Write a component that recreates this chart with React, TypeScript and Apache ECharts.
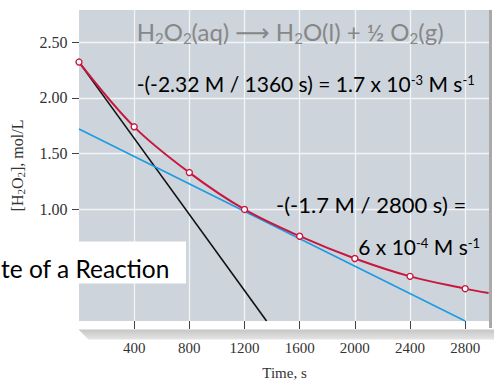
import React, { useEffect, useRef } from 'react';
import * as echarts from 'echarts';

// ---- data ----
const timeTicks = [400, 800, 1200, 1600, 2000, 2400, 2800];
const concTicks = [1.0, 1.5, 2.0, 2.5];
const curveTimes = [0, 400, 800, 1200, 1600, 2000, 2400, 2800];
const curveConc = [2.32, 1.74, 1.33, 1.0, 0.76, 0.56, 0.4, 0.29];
const curveTail: [number, number] = [2970, 0.25];
const tangentInitial: [number, number][] = [[0, 2.32], [1360, 0]];
const tangent1200: [number, number][] = [[0, 1.72], [2800, 0]];

const xMin = 0;
const xMax = 2980;
const yMin = 0;
const yMax = 2.787;

const SANS = 'Lato, "Open Sans", "DejaVu Sans", sans-serif';
const SERIF = '"Liberation Serif", "DejaVu Serif", serif';

function richStyles(color: string, subSize: number, subLH: number, supSize: number, supLift: number) {
  return {
    s: { fontSize: subSize, lineHeight: subLH, verticalAlign: 'bottom', fill: color, fontFamily: SANS },
    p: { fontSize: supSize, lineHeight: supSize + 2, verticalAlign: 'middle', padding: [0, 0, supLift * 2, 0], fill: color, fontFamily: SANS },
  };
}

const App = () => {
  const ref = useRef<HTMLDivElement>(null);
  useEffect(() => {
    const chart = echarts.init(ref.current!, null, { renderer: 'svg' });
    const curveData: any[] = curveTimes.map((t, i) => [t, curveConc[i]]);
    curveData.push({ value: curveTail, symbol: 'none' });

    chart.setOption({
      animation: false,
      backgroundColor: '#ffffff',
      grid: {
        left: 78.5,
        top: 10,
        right: 4,
        bottom: 59,
        show: true,
        backgroundColor: '#cdd4db',
        borderWidth: 0,
      },
      xAxis: {
        type: 'value',
        min: xMin,
        max: xMax,
        interval: 400,
        offset: 7,
        name: 'Time, s',
        nameLocation: 'middle',
        nameGap: 37,
        nameTextStyle: { fontFamily: SERIF, fontSize: 15, color: '#333' },
        axisLine: { show: false },
        axisTick: { show: true, length: 8, customValues: timeTicks, lineStyle: { color: '#444', width: 1 } },
        axisLabel: {
          customValues: timeTicks,
          margin: 12,
          fontFamily: SERIF,
          fontSize: 15,
          color: '#333',
          formatter: (v: number) => String(v),
        },
        splitLine: { show: true, lineStyle: { color: '#f2f4f6', width: 1.3 } },
      },
      yAxis: {
        type: 'value',
        min: yMin,
        max: yMax,
        interval: 0.5,
        name: '[H{s|2}O{s|2}], mol/L',
        nameLocation: 'middle',
        nameRotate: 90,
        nameGap: 53,
        nameTextStyle: {
          fontFamily: SERIF,
          fontSize: 16,
          color: '#333',
          lineHeight: 18,
          rich: { s: { fontFamily: SERIF, fontSize: 11, lineHeight: 11, verticalAlign: 'bottom', color: '#333' } },
        },
        axisLine: { show: false },
        axisTick: { show: true, length: 7, customValues: concTicks, lineStyle: { color: '#444', width: 1 } },
        axisLabel: {
          customValues: concTicks,
          margin: 11.5,
          fontFamily: SERIF,
          fontSize: 16,
          color: '#333',
          formatter: (v: number) => v.toFixed(2),
        },
        splitLine: { show: true, lineStyle: { color: '#f2f4f6', width: 1.3 } },
      },
      series: [
        {
          type: 'line',
          data: tangentInitial,
          symbol: 'none',
          lineStyle: { color: '#111111', width: 1.6 },
          z: 2,
        },
        {
          type: 'line',
          data: tangent1200,
          symbol: 'none',
          lineStyle: { color: '#1d9be2', width: 1.6 },
          z: 3,
        },
        {
          type: 'line',
          data: curveData,
          smooth: 0.35,
          symbol: 'circle',
          symbolSize: 6,
          itemStyle: { color: '#ffffff', borderColor: '#c8173e', borderWidth: 1.4 },
          lineStyle: { color: '#c8173e', width: 2 },
          z: 4,
        },
      ],
      graphic: [
        // right 3D edge
        { type: 'rect', z: 50, shape: { x: 489, y: 10, width: 3, height: 318 }, style: { fill: '#a9a9a9' } },
        // bottom shelf
        {
          type: 'polygon',
          z: 50,
          shape: { points: [[78.5, 329.5], [494, 329.5], [494, 339.5], [88.5, 339.5]] },
          style: {
            fill: new echarts.graphic.LinearGradient(0, 0, 0, 1, [
              { offset: 0, color: '#c6c6c6' },
              { offset: 1, color: '#e4e4e4' },
            ]),
          },
        },
        {
          type: 'text',
          z: 100,
          x: 136.7,
          y: 31,
          style: {
            text: 'H{s|2}O{s|2}(aq) ⟶ H{s|2}O(l) + ½ O{s|2}(g)',
            fontFamily: SANS,
            fontSize: 24,
            lineHeight: 28,
            fill: '#878787',
            align: 'left',
            verticalAlign: 'middle',
            rich: richStyles('#878787', 15, 16, 14, 4),
          },
        },
        {
          type: 'text',
          z: 100,
          x: 136.7,
          y: 83,
          style: {
            text: '-(-2.32 M / 1360 s) = 1.7 x 10{p|-3} M s{p|-1}',
            fontFamily: SANS,
            fontSize: 21,
            lineHeight: 26,
            fill: '#000000',
            align: 'left',
            verticalAlign: 'middle',
            rich: richStyles('#000000', 14, 15, 13, 3.5),
          },
        },
        {
          type: 'text',
          z: 100,
          x: 276,
          y: 204,
          style: {
            text: '-(-1.7 M / 2800 s) =',
            fontFamily: SANS,
            fontSize: 22,
            lineHeight: 26,
            fill: '#000000',
            align: 'left',
            verticalAlign: 'middle',
          },
        },
        {
          type: 'text',
          z: 100,
          x: 358.3,
          y: 246,
          style: {
            text: '6 x 10{p|-4} M s{p|-1}',
            fontFamily: SANS,
            fontSize: 21,
            lineHeight: 26,
            fill: '#000000',
            align: 'left',
            verticalAlign: 'middle',
            rich: richStyles('#000000', 14, 15, 13, 3.5),
          },
        },
        // white caption box
        { type: 'rect', z: 90, shape: { x: 0, y: 241.5, width: 186, height: 42 }, style: { fill: '#ffffff' } },
        {
          type: 'text',
          z: 100,
          x: 1,
          y: 268,
          style: {
            text: 'te of a Reaction',
            fontFamily: SANS,
            fontSize: 24.5,
            fill: '#000000',
            align: 'left',
            verticalAlign: 'middle',
          },
        },
      ],
    });
    return () => chart.dispose();
  }, []);
  return <div ref={ref} style={{ position: 'absolute', left: 0, top: 0, width: 494, height: 385 }} />;
};

export default App;
